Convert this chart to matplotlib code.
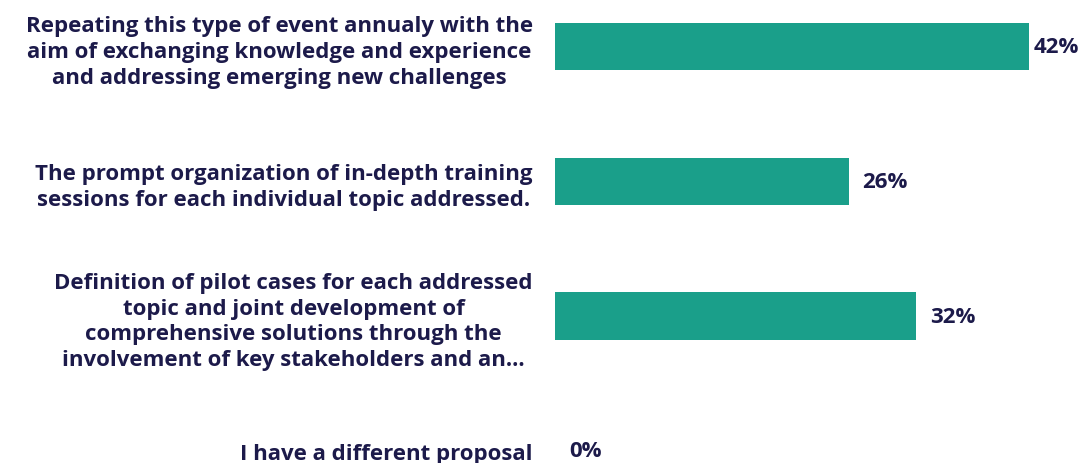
import matplotlib.pyplot as plt

plt.rcParams['font.family'] = ['Open Sans', 'DejaVu Sans']

categories = [
    "Repeating this type of event annualy with the\naim of exchanging knowledge and experience\nand addressing emerging new challenges",
    "The prompt organization of in-depth training\nsessions for each individual topic addressed.",
    "Definition of pilot cases for each addressed\ntopic and joint development of\ncomprehensive solutions through the\ninvolvement of key stakeholders and an...",
    "I have a different proposal",
]
values = [42, 26, 32, 0]

navy = '#1c1a4a'
teal = '#1a9f8a'

fig = plt.figure(figsize=(10.85, 4.64), dpi=100)
ax = fig.add_axes([555 / 1085, 0, 530 / 1085, 1])

pos = list(range(len(values)))
ax.barh(pos, values, height=0.35, color=teal)
ax.set_xlim(0, 46.95)
ax.set_ylim(3.09, -0.352)

ax.set_yticks(pos)
ax.set_yticklabels(categories, fontsize=16, fontweight='bold', color=navy,
                   multialignment='center', linespacing=1.3)
ax.tick_params(axis='y', length=0, pad=16)
ax.set_xticks([])
for s in ax.spines.values():
    s.set_visible(False)

for p, v in zip(pos, values):
    off = 3 if v >= 40 else 10
    ax.annotate(f"{v}%", (v, p), xytext=(off, 0), textcoords='offset points',
                va='center', ha='left', fontsize=16, fontweight='bold', color=navy)

fig.savefig('out.png', dpi=100)
